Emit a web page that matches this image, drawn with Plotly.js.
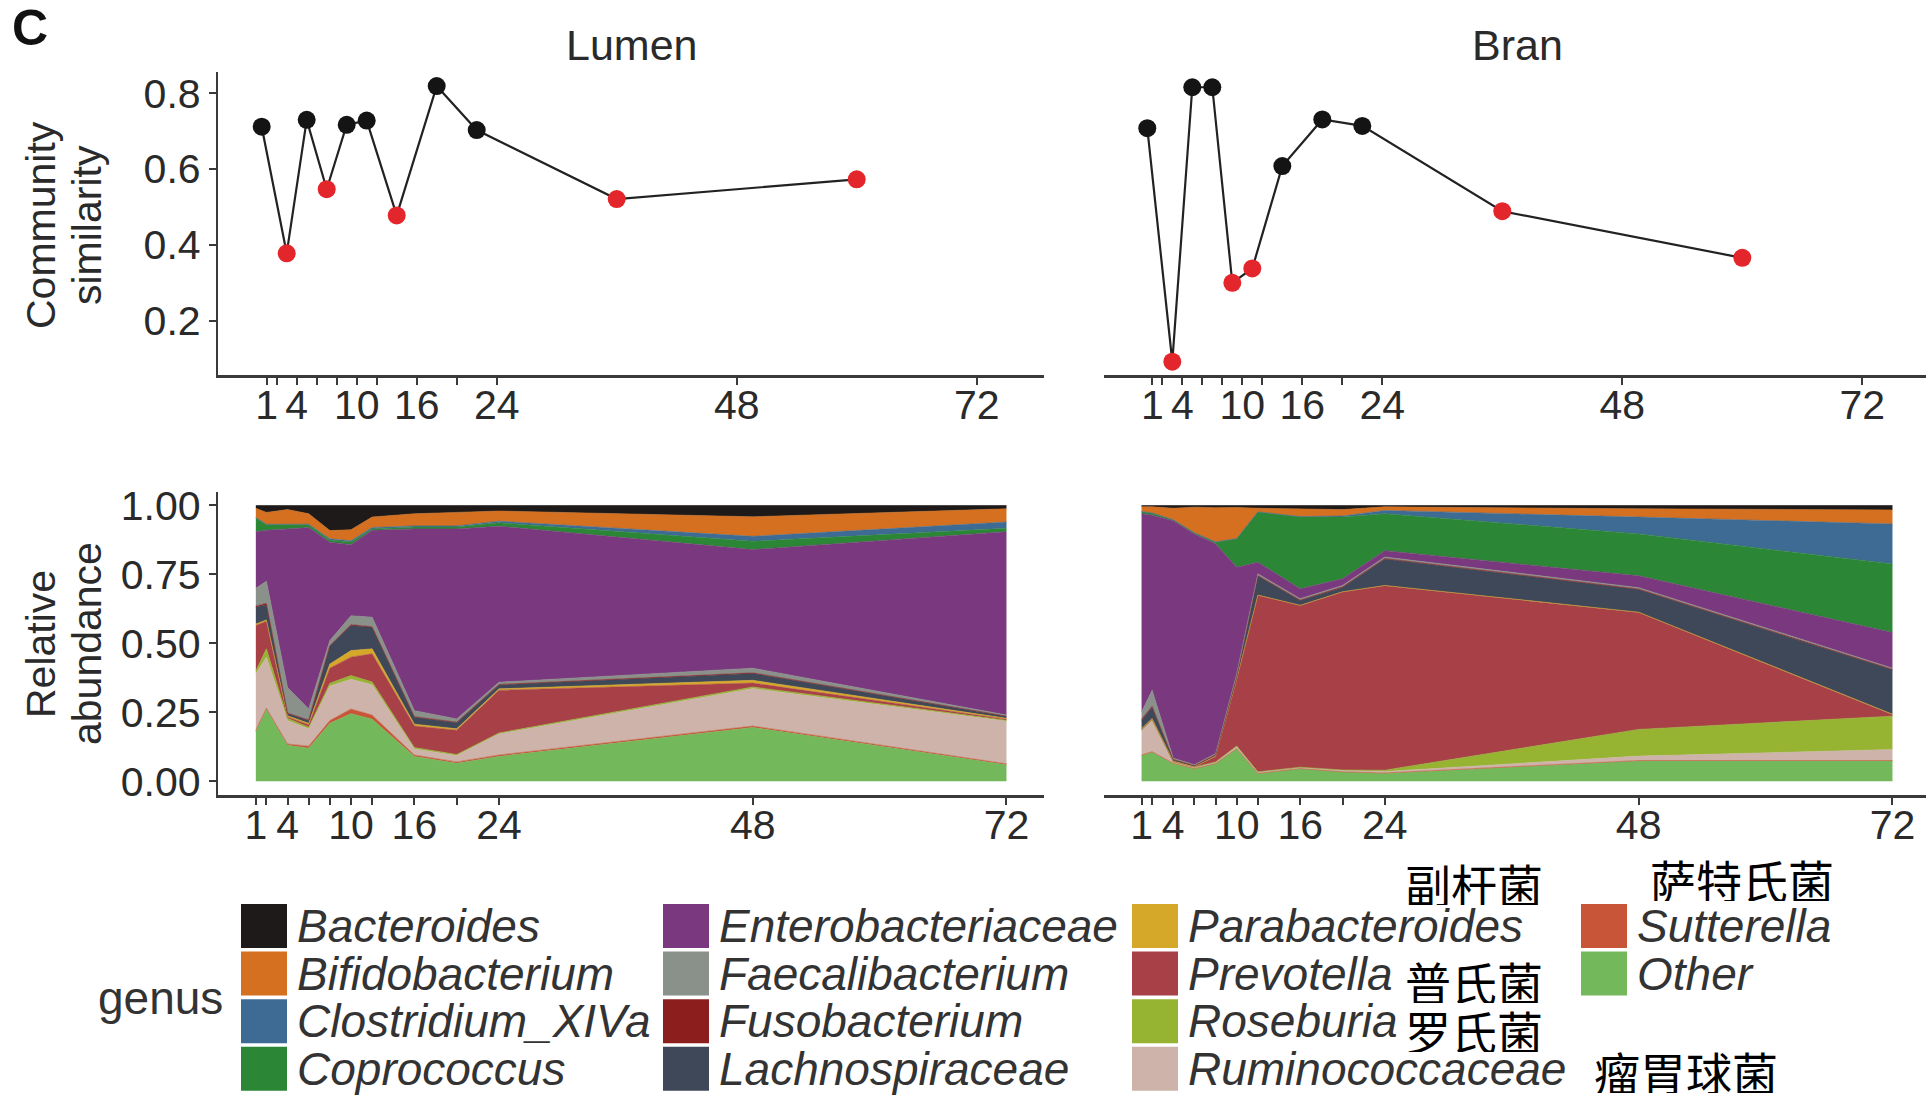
<!DOCTYPE html>
<html>
<head>
<meta charset="utf-8">
<script src="https://cdn.plot.ly/plotly-3.0.1.min.js"></script>
<style>
  html, body { margin: 0; padding: 0; background: #ffffff; }
  #chart { width: 1926px; height: 1099px; }
</style>
</head>
<body>
<div id="chart"></div>
<script>
// ---- sampling times and community similarity between consecutive samples ----
const sampleHours   = [1, 2, 4, 6, 8, 10, 12, 16, 20, 24, 48, 72];
const intervalHours = [0.5, 3, 5, 7, 9, 11, 14, 18, 22, 36, 60];
const lumenSimilarity = [0.712, 0.378, 0.730, 0.547, 0.717, 0.728, 0.478, 0.819, 0.703, 0.521, 0.573];
const branSimilarity  = [0.708, 0.092, 0.816, 0.816, 0.300, 0.338, 0.608, 0.731, 0.714, 0.489, 0.366];
const similarityCutoff = 0.6;   // points below this are highlighted

const xTickVals = [1, 2, 4, 6, 8, 10, 12, 16, 20, 24, 48, 72];
const xTickText = ['1', '', '4', '', '', '10', '', '16', '', '24', '48', '72'];

// ---- genus relative abundance (one value per sample hour) ----
const genera = ['Bacteroides', 'Bifidobacterium', 'Clostridium_XIVa', 'Coprococcus',
  'Enterobacteriaceae', 'Faecalibacterium', 'Fusobacterium', 'Lachnospiraceae',
  'Parabacteroides', 'Prevotella', 'Roseburia', 'Ruminococcaceae', 'Sutterella', 'Other'];

const lumenBacteroides        = [0.010, 0.025, 0.015, 0.030, 0.091, 0.088, 0.042, 0.030, 0.025, 0.020, 0.041, 0.012];
const lumenBifidobacterium    = [0.034, 0.043, 0.053, 0.038, 0.030, 0.040, 0.038, 0.044, 0.049, 0.037, 0.071, 0.048];
const lumenClostridium        = [0.001, 0.002, 0.002, 0.002, 0.004, 0.004, 0.005, 0.004, 0.004, 0.006, 0.018, 0.023];
const lumenCoprococcus        = [0.050, 0.020, 0.015, 0.010, 0.008, 0.010, 0.005, 0.007, 0.007, 0.012, 0.030, 0.012];
const lumenEnterobacteriaceae = [0.205, 0.185, 0.575, 0.658, 0.357, 0.258, 0.315, 0.659, 0.689, 0.566, 0.430, 0.665];
const lumenFaecalibacterium   = [0.065, 0.080, 0.093, 0.040, 0.018, 0.032, 0.035, 0.022, 0.012, 0.008, 0.017, 0.004];
const lumenFusobacterium      = [0.004, 0.005, 0.002, 0.002, 0.002, 0.003, 0.002, 0.002, 0.002, 0.002, 0.002, 0.000];
const lumenLachnospiraceae    = [0.061, 0.055, 0.008, 0.010, 0.065, 0.091, 0.078, 0.025, 0.022, 0.014, 0.025, 0.008];
const lumenParabacteroides    = [0.005, 0.005, 0.004, 0.005, 0.015, 0.024, 0.018, 0.007, 0.005, 0.005, 0.010, 0.003];
const lumenPrevotella         = [0.165, 0.100, 0.005, 0.009, 0.055, 0.067, 0.102, 0.078, 0.088, 0.155, 0.014, 0.004];
const lumenRoseburia          = [0.010, 0.030, 0.008, 0.006, 0.010, 0.013, 0.010, 0.005, 0.004, 0.003, 0.006, 0.003];
const lumenRuminococcaceae    = [0.205, 0.185, 0.085, 0.063, 0.125, 0.108, 0.110, 0.022, 0.023, 0.077, 0.136, 0.155];
const lumenSutterella         = [0.005, 0.005, 0.005, 0.007, 0.010, 0.017, 0.015, 0.005, 0.005, 0.005, 0.005, 0.003];
const lumenOther              = [0.180, 0.260, 0.130, 0.120, 0.210, 0.245, 0.225, 0.090, 0.065, 0.090, 0.195, 0.060];

const branBacteroides         = [0.005, 0.005, 0.010, 0.006, 0.008, 0.007, 0.010, 0.012, 0.015, 0.005, 0.012, 0.016];
const branBifidobacterium     = [0.017, 0.022, 0.042, 0.093, 0.124, 0.113, 0.013, 0.028, 0.023, 0.013, 0.030, 0.051];
const branClostridium         = [0.001, 0.001, 0.001, 0.001, 0.001, 0.001, 0.001, 0.002, 0.004, 0.012, 0.061, 0.145];
const branCoprococcus         = [0.007, 0.007, 0.002, 0.003, 0.006, 0.103, 0.182, 0.260, 0.224, 0.134, 0.152, 0.249];
const branEnterobacteriaceae  = [0.720, 0.635, 0.862, 0.837, 0.761, 0.386, 0.042, 0.036, 0.024, 0.023, 0.043, 0.129];
const branFaecalibacterium    = [0.025, 0.058, 0.004, 0.003, 0.004, 0.008, 0.006, 0.005, 0.005, 0.005, 0.005, 0.004];
const branFusobacterium       = [0.005, 0.004, 0.001, 0.001, 0.001, 0.002, 0.002, 0.002, 0.002, 0.002, 0.002, 0.002];
const branLachnospiraceae     = [0.029, 0.041, 0.005, 0.003, 0.004, 0.009, 0.069, 0.017, 0.016, 0.096, 0.082, 0.161];
const branParabacteroides     = [0.001, 0.001, 0.001, 0.001, 0.001, 0.001, 0.001, 0.001, 0.001, 0.001, 0.001, 0.002];
const branPrevotella          = [0.004, 0.004, 0.002, 0.001, 0.020, 0.242, 0.640, 0.586, 0.645, 0.669, 0.424, 0.005];
const branRoseburia           = [0.002, 0.002, 0.001, 0.001, 0.001, 0.003, 0.001, 0.001, 0.001, 0.005, 0.097, 0.121];
const branRuminococcaceae     = [0.089, 0.113, 0.004, 0.004, 0.005, 0.007, 0.005, 0.004, 0.006, 0.005, 0.016, 0.040];
const branSutterella          = [0.002, 0.002, 0.002, 0.001, 0.001, 0.001, 0.001, 0.001, 0.001, 0.002, 0.002, 0.002];
const branOther               = [0.093, 0.105, 0.063, 0.045, 0.063, 0.117, 0.027, 0.045, 0.033, 0.028, 0.073, 0.073];

// series in the same order as `genera`
const lumenSeries = [lumenBacteroides, lumenBifidobacterium, lumenClostridium, lumenCoprococcus,
  lumenEnterobacteriaceae, lumenFaecalibacterium, lumenFusobacterium, lumenLachnospiraceae,
  lumenParabacteroides, lumenPrevotella, lumenRoseburia, lumenRuminococcaceae, lumenSutterella, lumenOther];
const branSeries = [branBacteroides, branBifidobacterium, branClostridium, branCoprococcus,
  branEnterobacteriaceae, branFaecalibacterium, branFusobacterium, branLachnospiraceae,
  branParabacteroides, branPrevotella, branRoseburia, branRuminococcaceae, branSutterella, branOther];

// Chinese names written beside some legend entries
const legendNotes = [
  { genus: 'Parabacteroides', text: '副杆菌' },
  { genus: 'Sutterella',      text: '萨特氏菌' },
  { genus: 'Prevotella',      text: '普氏菌' },
  { genus: 'Roseburia',       text: '罗氏菌' },
  { genus: 'Ruminococcaceae', text: '瘤胃球菌' }
];

// ---- styling ----
const genusColors = ['#1e1a19', '#d4701f', '#3e6b94', '#2b8736', '#7a397e', '#8a918a', '#8c1e1e',
  '#3e4858', '#d6a82a', '#a84048', '#96b432', '#cdb3aa', '#c85537', '#74b85c'];
const W = 1926, H = 1099;
const px = v => v / W;          // pixel column -> paper x
const py = v => 1 - v / H;      // pixel row -> paper y
const FONT = 'Liberation Sans, Arial, Helvetica, sans-serif';
const INK = '#2a2a2a';
const AXIS = '#3a3a3a';

const traces = [];

// similarity lines
function similarityTrace(y, xa, ya) {
  return {
    type: 'scatter', mode: 'lines+markers', x: intervalHours, y: y,
    xaxis: xa, yaxis: ya, showlegend: false, hoverinfo: 'x+y',
    line: { color: '#222222', width: 2.2 },
    marker: { size: 18, color: y.map(v => v < similarityCutoff ? '#e3262b' : '#141414'), line: { width: 0 } }
  };
}
traces.push(similarityTrace(lumenSimilarity, 'x', 'y'));
traces.push(similarityTrace(branSimilarity, 'x2', 'y2'));

// stacked areas: last genus at the bottom, first genus on top
function addStack(series, xa, ya, group) {
  for (let i = genera.length - 1; i >= 0; i--) {
    traces.push({
      type: 'scatter', mode: 'lines', x: sampleHours, y: series[i],
      name: genera[i], stackgroup: group, xaxis: xa, yaxis: ya, showlegend: false,
      fillcolor: genusColors[i], line: { color: genusColors[i], width: 0.6 },
      hoverinfo: 'name+y'
    });
  }
}
addStack(lumenSeries, 'x3', 'y3', 'lumen');
addStack(branSeries, 'x4', 'y4', 'bran');

const tickFont = { family: FONT, size: 41, color: INK };
function xAxis(domain, range, anchor) {
  return {
    domain: domain, range: range, anchor: anchor, tickmode: 'array',
    tickvals: xTickVals, ticktext: xTickText, tickangle: 0, ticklabelstandoff: -15,
    showline: true, linecolor: AXIS, linewidth: 2.5, ticks: 'outside', ticklen: 7,
    tickwidth: 2, tickcolor: AXIS, showgrid: false, zeroline: false, tickfont: tickFont,
    fixedrange: true
  };
}
function yAxis(domain, range, anchor, vals, fmt) {
  return {
    domain: domain, range: range, anchor: anchor, tickmode: 'array', tickvals: vals,
    tickformat: fmt, showline: true, linecolor: AXIS, linewidth: 2.5, ticks: 'outside',
    ticklen: 7, tickwidth: 2, tickcolor: AXIS, showgrid: false, zeroline: false,
    tickfont: tickFont, fixedrange: true
  };
}
function hiddenY(domain, range, anchor) {
  return { domain: domain, range: range, anchor: anchor, visible: false, fixedrange: true };
}

const topDom = [py(375), py(71.7)];
const botDom = [py(795), py(491.7)];
const leftDom = [px(218.3), px(1044)];
const rightDom = [px(1104), 1];

const annotations = [];
const shapes = [];
function label(text, x, y, size, opts) {
  annotations.push(Object.assign({
    text: text, x: px(x), y: py(y), xref: 'paper', yref: 'paper', showarrow: false,
    xanchor: 'center', yanchor: 'middle', font: { family: FONT, size: size, color: INK }
  }, opts || {}));
}

label('<b>C</b>', 30, 28, 50, { font: { family: FONT, size: 50, color: '#111' } });
label('Lumen', 631, 45, 43);
label('Bran', 1517, 45, 43);
label('Community', 41, 225, 41, { textangle: -90 });
label('similarity', 87, 225, 41, { textangle: -90 });
label('Relative', 41, 644, 41, { textangle: -90 });
label('abundance', 87, 644, 41, { textangle: -90 });

// legend, four rows filled column by column
const colLeft = [241, 663, 1132, 1581];
const rowTop0 = 904, rowStep = 47.6, swatch = 44;
label('genus', 225, 998, 46, { xanchor: 'right', font: { family: FONT, size: 46, color: '#333' } });
genera.forEach((g, i) => {
  const c = Math.floor(i / 4), r = i % 4;
  const x0 = colLeft[c], y0 = rowTop0 + r * rowStep;
  shapes.push({
    type: 'rect', xref: 'paper', yref: 'paper', x0: px(x0), x1: px(x0 + 46),
    y0: py(y0 + swatch), y1: py(y0), fillcolor: genusColors[i], line: { width: 0 }
  });
  label('<i>' + g + '</i>', x0 + 54, y0 + swatch / 2, 46,
    { xanchor: 'left', font: { family: FONT, size: 46, color: '#333' } });
});

const notePos = {
  'Parabacteroides': [1474, 883], 'Sutterella': [1742, 879], 'Prevotella': [1474, 981],
  'Roseburia': [1474, 1030], 'Ruminococcaceae': [1686, 1071]
};
legendNotes.forEach(n => {
  const p = notePos[n.genus];
  label(n.text, p[0], p[1], 46, {
    height: 44, valign: 'middle', borderpad: 0,
    font: { family: 'Noto Sans CJK SC, sans-serif', size: 46, color: '#000' }
  });
});

const layout = {
  width: W, height: H, margin: { l: 0, r: 0, t: 0, b: 0 },
  paper_bgcolor: '#ffffff', plot_bgcolor: '#ffffff', showlegend: false,
  font: { family: FONT, color: INK },
  xaxis:  xAxis(leftDom,  [-3.84, 78.73], 'y'),
  yaxis:  yAxis(topDom, [0.057, 0.857], 'x', [0.2, 0.4, 0.6, 0.8], '.1f'),
  xaxis2: xAxis(rightDom, [-3.83, 78.37], 'y2'),
  yaxis2: hiddenY(topDom, [0.057, 0.857], 'x2'),
  xaxis3: xAxis(leftDom,  [-2.55, 75.55], 'y3'),
  yaxis3: yAxis(botDom, [-0.05, 1.05], 'x3', [0, 0.25, 0.5, 0.75, 1], '.2f'),
  xaxis4: xAxis(rightDom, [-2.55, 75.17], 'y4'),
  yaxis4: hiddenY(botDom, [-0.05, 1.05], 'x4'),
  annotations: annotations, shapes: shapes
};

Plotly.newPlot('chart', traces, layout, { displayModeBar: false, staticPlot: true });
</script>
</body>
</html>
